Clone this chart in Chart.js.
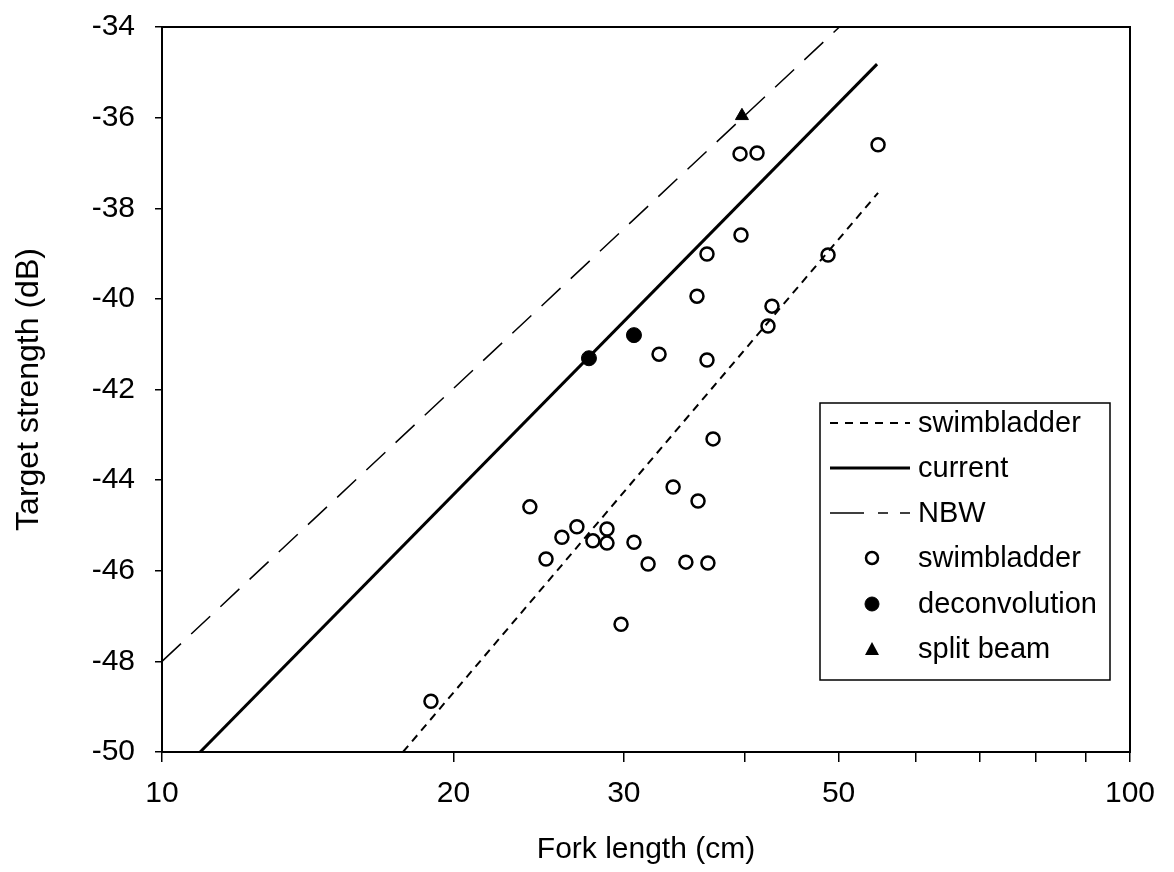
<!DOCTYPE html>
<html>
<head>
<meta charset="utf-8">
<script src="https://cdn.jsdelivr.net/npm/chart.js@4/dist/chart.umd.min.js"></script>
<style>
  html, body { margin: 0; padding: 0; background: #fff; }
  #wrap { width: 1174px; height: 872px; }
</style>
</head>
<body>
<div id="wrap"><canvas id="tsChart" width="1174" height="872"></canvas></div>
<script>
// fork length (cm) / target strength (dB)
const swimLengths = [39.55, 41.18, 54.92, 39.64, 36.56, 48.76, 35.7, 42.67, 42.27, 32.62, 36.56, 37.09, 33.73, 35.79,
    23.99, 26.83, 25.89, 28.82, 27.87, 28.82, 30.73, 24.93, 31.78, 34.77, 36.64, 29.8, 18.96];
const swimTS = [-36.8, -36.78, -36.6, -38.59, -39.01, -39.03, -39.94, -40.16, -40.6, -41.22, -41.35, -43.09, -44.15, -44.46,
    -44.59, -45.03, -45.26, -45.08, -45.34, -45.39, -45.37, -45.74, -45.85, -45.81, -45.83, -47.18, -48.88];

const deconvLengths = [27.61, 30.73];
const deconvTS = [-41.31, -40.8];

const splitLengths = [39.73];
const splitTS = [-35.96];

// regression lines, end points only
const swimLineLengths = [17.74, 54.92];
const swimLineTS = [-50, -37.66];
const currentLengths = [10.95, 54.79];
const currentTS = [-50, -34.82];
const nbwLengths = [10, 50.1];
const nbwTS = [-48, -34];

const xTickMarks = [10, 20, 30, 40, 50, 60, 70, 80, 90, 100];
const xTickLabels = [10, 20, 30, 50, 100];
const yTicks = [-50, -48, -46, -44, -42, -40, -38, -36, -34];

const toPoints = (xs, ys) => xs.map((x, i) => ({ x: x, y: ys[i] }));

const FONT = '"Liberation Sans", Arial, sans-serif';

// box round the plot and the inset legend
const framePlugin = {
    id: 'frame',
    afterDraw(chart) {
        const ctx = chart.ctx;
        const a = chart.chartArea;
        ctx.save();
        ctx.strokeStyle = '#000';
        ctx.lineWidth = 2;
        ctx.strokeRect(a.left, a.top, a.right - a.left, a.bottom - a.top);

        // legend
        const box = { left: a.right - 310, top: 403, width: 290, height: 277 };
        ctx.fillStyle = '#fff';
        ctx.fillRect(box.left, box.top, box.width, box.height);
        ctx.lineWidth = 1.5;
        ctx.strokeRect(box.left, box.top, box.width, box.height);

        const rowY = [423, 468, 513, 558, 604, 649];
        ctx.font = '29px ' + FONT;
        ctx.textBaseline = 'middle';
        ctx.textAlign = 'left';
        chart.data.datasets.forEach((ds, i) => {
            const y = rowY[i];
            const x0 = box.left + 10;
            if (ds.showLine) {
                ctx.beginPath();
                ctx.setLineDash(ds.legendDash || []);
                ctx.lineWidth = ds.borderWidth;
                ctx.strokeStyle = '#000';
                ctx.moveTo(x0, y);
                ctx.lineTo(x0 + 80, y);
                ctx.stroke();
                ctx.setLineDash([]);
            } else {
                const cx = x0 + 42;
                ctx.lineWidth = ds.borderWidth;
                ctx.strokeStyle = '#000';
                ctx.fillStyle = ds.backgroundColor;
                ctx.beginPath();
                if (ds.pointStyle === 'triangle') {
                    ctx.moveTo(cx, y - 7);
                    ctx.lineTo(cx + 7, y + 6);
                    ctx.lineTo(cx - 7, y + 6);
                    ctx.closePath();
                    ctx.fillStyle = '#000';
                    ctx.fill();
                } else {
                    ctx.arc(cx, y, ds.pointRadius - 0.5, 0, Math.PI * 2);
                    ctx.fill();
                    ctx.stroke();
                }
            }
            ctx.fillStyle = '#000';
            ctx.fillText(ds.label, x0 + 88, y + 1);
        });
        ctx.restore();
    }
};

const ctx = document.getElementById('tsChart').getContext('2d');
const tsChart = new Chart(ctx, {
    type: 'scatter',
    data: {
        datasets: [{
            label: 'swimbladder',
            data: toPoints(swimLineLengths, swimLineTS),
            showLine: true,
            borderColor: '#000',
            borderWidth: 2,
            borderDash: [8, 6],
            legendDash: [8, 7],
            pointRadius: 0
        }, {
            label: 'current',
            data: toPoints(currentLengths, currentTS),
            showLine: true,
            borderColor: '#000',
            borderWidth: 3,
            pointRadius: 0
        }, {
            label: 'NBW',
            data: toPoints(nbwLengths, nbwTS),
            showLine: true,
            borderColor: '#000',
            borderWidth: 1.5,
            borderDash: [26, 14],
            legendDash: [34, 14, 10, 12, 10, 6],
            pointRadius: 0
        }, {
            label: 'swimbladder',
            data: toPoints(swimLengths, swimTS),
            pointStyle: 'circle',
            pointRadius: 6.5,
            borderWidth: 2.5,
            borderColor: '#000',
            backgroundColor: '#fff'
        }, {
            label: 'deconvolution',
            data: toPoints(deconvLengths, deconvTS),
            pointStyle: 'circle',
            pointRadius: 7.5,
            borderWidth: 1,
            borderColor: '#000',
            backgroundColor: '#000'
        }, {
            label: 'split beam',
            data: toPoints(splitLengths, splitTS),
            pointStyle: 'triangle',
            pointRadius: 7.5,
            borderWidth: 1,
            borderColor: '#000',
            backgroundColor: '#000'
        }]
    },
    options: {
        responsive: false,
        animation: false,
        layout: { padding: { left: 6, right: 44, top: 27, bottom: 0 } },
        plugins: {
            legend: { display: false },
            tooltip: { enabled: false }
        },
        scales: {
            x: {
                type: 'logarithmic',
                min: 10,
                max: 100,
                afterFit(scale) {
                    scale.height = 120;
                    scale.paddingLeft = 0;
                    scale.paddingRight = 0;
                },
                afterBuildTicks(scale) { scale.ticks = xTickMarks.map(v => ({ value: v })); },
                border: { display: true, color: '#000', width: 2 },
                grid: { drawOnChartArea: false, color: '#000', tickLength: 10, lineWidth: 1.5 },
                ticks: {
                    color: '#000',
                    font: { family: FONT, size: 30 },
                    padding: 14,
                    maxRotation: 0,
                    autoSkip: false,
                    callback: (v) => xTickLabels.includes(v) ? String(v) : ''
                },
                title: {
                    display: true,
                    text: 'Fork length (cm)',
                    color: '#000',
                    font: { family: FONT, size: 30 }
                }
            },
            y: {
                min: -50,
                max: -34,
                afterFit(scale) {
                    scale.width = 156;
                    scale.paddingTop = 0;
                    scale.paddingBottom = 0;
                },
                afterBuildTicks(scale) { scale.ticks = yTicks.map(v => ({ value: v })); },
                border: { display: true, color: '#000', width: 2 },
                grid: { drawOnChartArea: false, color: '#000', tickLength: 7, lineWidth: 1.5 },
                ticks: {
                    color: '#000',
                    font: { family: FONT, size: 30 },
                    padding: 20
                },
                title: {
                    display: true,
                    text: 'Target strength (dB)',
                    color: '#000',
                    font: { family: FONT, size: 32 }
                }
            }
        }
    },
    plugins: [framePlugin]
});
</script>
</body>
</html>
